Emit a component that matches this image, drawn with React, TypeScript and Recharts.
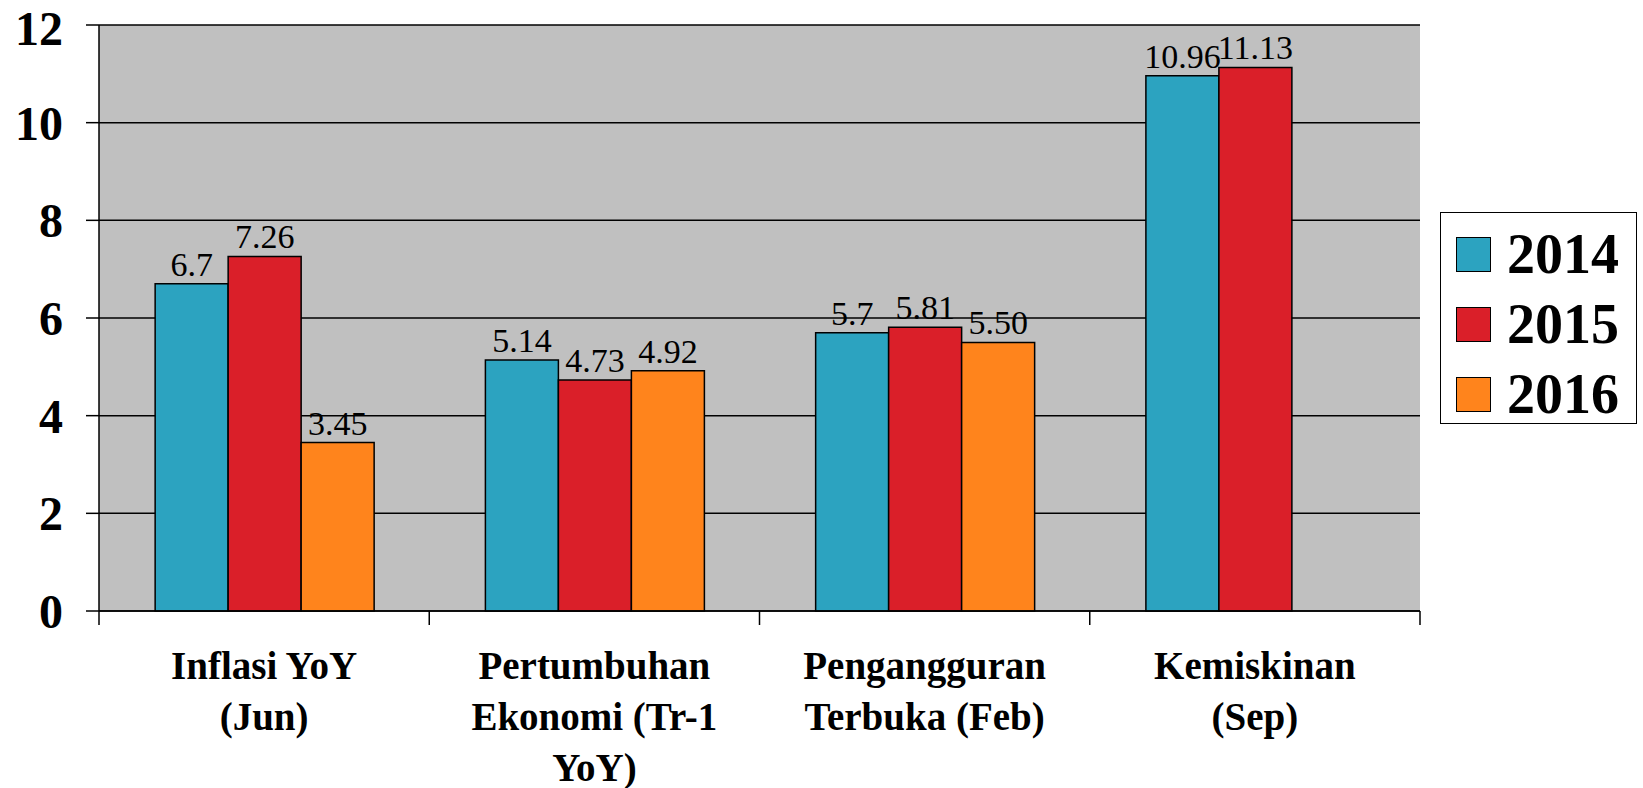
import {
    BarChart,
    Bar,
    XAxis,
    YAxis,
    CartesianGrid,
    Legend,
    LabelList,
} from 'recharts'

const categories = [
    'Inflasi YoY (Jun)',
    'Pertumbuhan Ekonomi (Tr-1 YoY)',
    'Pengangguran Terbuka (Feb)',
    'Kemiskinan (Sep)',
]
const categoryLines = [
    ['Inflasi YoY', '(Jun)'],
    ['Pertumbuhan', 'Ekonomi (Tr-1', 'YoY)'],
    ['Pengangguran', 'Terbuka (Feb)'],
    ['Kemiskinan', '(Sep)'],
]

const values2014 = [6.7, 5.14, 5.7, 10.96]
const values2015 = [7.26, 4.73, 5.81, 11.13]
const values2016 = [3.45, 4.92, 5.5, null]

const labels2014 = ['6.7', '5.14', '5.7', '10.96']
const labels2015 = ['7.26', '4.73', '5.81', '11.13']
const labels2016 = ['3.45', '4.92', '5.50', null]

const yTicks = [0, 2, 4, 6, 8, 10, 12]

const series = [
    { key: 'y2014', label: 'l2014', name: '2014', color: '#2CA3C0' },
    { key: 'y2015', label: 'l2015', name: '2015', color: '#DA1F29' },
    { key: 'y2016', label: 'l2016', name: '2016', color: '#FF841C' },
]

const data = categories.map((name, i) => ({
    name,
    y2014: values2014[i],
    y2015: values2015[i],
    y2016: values2016[i],
    l2014: labels2014[i],
    l2015: labels2015[i],
    l2016: labels2016[i],
}))

const FONT = '"Liberation Serif", "DejaVu Serif", serif'

function CategoryTick(props: any) {
    const { x, y, payload, index } = props
    const lines = categoryLines[index] ?? [payload.value]
    const half = payload.offset ?? 0
    const last = index === categories.length - 1
    return (
        <g>
            <line x1={x - half} x2={x - half} y1={y} y2={y + 14} stroke="#000" strokeWidth={1.5} />
            {last && (
                <line x1={x + half} x2={x + half} y1={y} y2={y + 14} stroke="#000" strokeWidth={1.5} />
            )}
            <text
                x={x}
                y={y + 68}
                textAnchor="middle"
                fontFamily={FONT}
                fontWeight="bold"
                fontSize={39}
                fill="#000"
            >
                {lines.map((line, i) => (
                    <tspan key={line} x={x} dy={i === 0 ? 0 : 51}>
                        {line}
                    </tspan>
                ))}
            </text>
        </g>
    )
}

function LegendBox() {
    return (
        <div
            style={{
                width: 197,
                height: 212,
                boxSizing: 'border-box',
                border: '1.5px solid #000',
                background: '#fff',
                paddingTop: 6,
            }}
        >
            {series.map((s) => (
                <div
                    key={s.key}
                    style={{ display: 'flex', alignItems: 'center', height: 70, paddingLeft: 15 }}
                >
                    <div
                        style={{
                            width: 35,
                            height: 35,
                            background: s.color,
                            border: '1.5px solid #000',
                            boxSizing: 'border-box',
                            marginRight: 16,
                        }}
                    />
                    <span
                        style={{
                            fontFamily: FONT,
                            fontWeight: 'bold',
                            fontSize: 56,
                            lineHeight: '56px',
                            color: '#000',
                        }}
                    >
                        {s.name}
                    </span>
                </div>
            ))}
        </div>
    )
}

export default function App() {
    return (
        <div style={{ position: 'absolute', left: 0, top: 0, background: '#fff' }}>
            <BarChart
                width={1643}
                height={788}
                data={data}
                margin={{ top: 25, right: 26, bottom: 0, left: 0 }}
                barCategoryGap="17%"
                barGap={0}
            >
                <CartesianGrid vertical={false} stroke="#000" strokeWidth={1.5} fill="#C0C0C0" />
                <XAxis
                    dataKey="name"
                    height={177}
                    tickSize={0}
                    tickMargin={0}
                    tickLine={false}
                    axisLine={{ stroke: '#000', strokeWidth: 1.5 }}
                    tick={<CategoryTick />}
                    interval={0}
                />
                <XAxis
                    xAxisId="top"
                    dataKey="name"
                    orientation="top"
                    height={0}
                    tick={false}
                    tickLine={false}
                    axisLine={{ stroke: '#808080', strokeWidth: 2.5 }}
                />
                <YAxis
                    domain={[0, 12]}
                    ticks={yTicks}
                    width={99}
                    tickSize={13}
                    tickMargin={23}
                    tickLine={{ stroke: '#000', strokeWidth: 1.5 }}
                    axisLine={{ stroke: '#000', strokeWidth: 1.5 }}
                    tick={{ fontFamily: FONT, fontWeight: 'bold', fontSize: 48, fill: '#000' }}
                />
                <YAxis
                    yAxisId="right"
                    orientation="right"
                    domain={[0, 12]}
                    width={0}
                    tick={false}
                    tickLine={false}
                    axisLine={{ stroke: '#808080', strokeWidth: 2 }}
                />
                <Legend
                    layout="vertical"
                    align="right"
                    verticalAlign="top"
                    wrapperStyle={{ top: 212, right: 6, width: 197 }}
                    content={() => <LegendBox />}
                />
                {series.map((s) => (
                    <Bar
                        key={s.key}
                        dataKey={s.key}
                        name={s.name}
                        fill={s.color}
                        stroke="#000"
                        strokeWidth={1.5}
                        isAnimationActive={false}
                    >
                        <LabelList
                            dataKey={s.label}
                            position="top"
                            offset={8}
                            fontFamily={FONT}
                            fontSize={34}
                            fill="#000"
                        />
                    </Bar>
                ))}
            </BarChart>
        </div>
    )
}
